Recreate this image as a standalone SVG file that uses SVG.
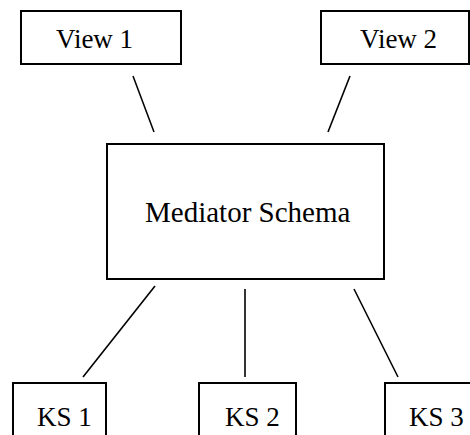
<svg xmlns="http://www.w3.org/2000/svg" width="470" height="435" viewBox="0 0 470 435">
<style>
.box{fill:#fff;stroke:#000;stroke-width:2}
.lbl{font-family:'Liberation Serif','DejaVu Serif',serif;font-size:27px;fill:#000}
.big{font-size:29px}
.conn line{stroke:#000;stroke-width:1.6}
</style>
<rect width="470" height="435" fill="#fff"/>
<g id="view1"><rect class="box" x="21" y="11" width="160" height="53"/><text class="lbl" font-family="Liberation Serif, serif" x="56" y="48">View 1</text></g>
<g id="view2"><rect class="box" x="321" y="11" width="148" height="53"/><text class="lbl" font-family="Liberation Serif, serif" x="360" y="48">View 2</text></g>
<g id="mediator"><rect class="box" x="107" y="144" width="277" height="135"/><text class="lbl big" font-family="Liberation Serif, serif" x="145" y="222">Mediator Schema</text></g>
<g id="ks1"><rect class="box" x="13" y="383" width="93" height="60"/><text class="lbl" font-family="Liberation Serif, serif" x="37" y="426">KS 1</text></g>
<g id="ks2"><rect class="box" x="199" y="383" width="97" height="60"/><text class="lbl" font-family="Liberation Serif, serif" x="225" y="426">KS 2</text></g>
<g id="ks3"><rect class="box" x="385" y="383" width="100" height="60"/><text class="lbl" font-family="Liberation Serif, serif" x="409" y="426">KS 3</text></g>
<g id="connectors" class="conn">
<line x1="133" y1="76" x2="154" y2="132"/>
<line x1="350" y1="76" x2="328" y2="132"/>
<line x1="155" y1="286" x2="83" y2="377"/>
<line x1="245" y1="289" x2="245" y2="377"/>
<line x1="354" y1="289" x2="398" y2="377"/>
</g>
</svg>
